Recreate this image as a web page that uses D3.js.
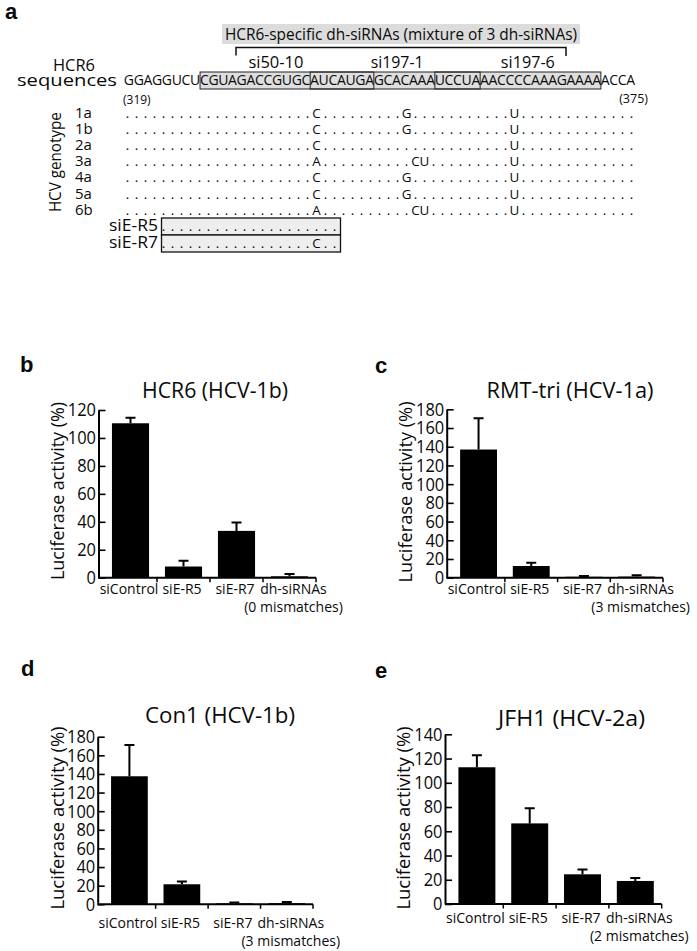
<!DOCTYPE html>
<html>
<head>
<meta charset="utf-8">
<script src="https://cdn.jsdelivr.net/npm/d3@7/dist/d3.min.js"></script>
<style>
  html, body { margin: 0; padding: 0; background: #fff; }
  svg { display: block; }
  text { font-family: 'Open Sans', 'Noto Sans', sans-serif; fill: #0a0a0a; }
</style>
</head>
<body>
<svg id="fig" width="697" height="951"></svg>
<script>
// ---------------- DATA ----------------
// Panel a: HCR6 sequence (positions 319-375), split by siRNA boundaries
const seqSegments = ["GGAGGUCU", "CGUAGACCGUGC", "AUCAUGA", "GCACAAA", "UCCUA", "AACCCCAAAGAAAA", "ACCA"];
const seqStartLabel = "(319)";
const seqEndLabel = "(375)";
const dhTitle = "HCR6-specific dh-siRNAs (mixture of 3 dh-siRNAs)";
const siNames = ["si50-10", "si197-1", "si197-6"];
const siStart = [8, 20, 34];   // index in sequence (0-based)
const siEnd = [26, 38, 52];
const genotypes = ["1a", "1b", "2a", "3a", "4a", "5a", "6b"];
// mismatches vs HCR6: [position, base]
const genotypeMismatches = [
  [[21, "C"], [31, "G"], [43, "U"]],
  [[21, "C"], [31, "G"], [43, "U"]],
  [[21, "C"], [43, "U"]],
  [[21, "A"], [32, "C"], [33, "U"], [43, "U"]],
  [[21, "C"], [31, "G"], [43, "U"]],
  [[21, "C"], [31, "G"], [43, "U"]],
  [[21, "A"], [32, "C"], [33, "U"], [43, "U"]]
];
const siENames = ["siE-R5", "siE-R7"];
const siERange = [4, 23];
const siEMismatches = [[], [[21, "C"]]];

// Panels b-e: luciferase activity (%)
const barCategories = ["siControl", "siE-R5", "siE-R7", "dh-siRNAs"];
const panelLetters = ["b", "c", "d", "e"];
const panelTitles = ["HCR6 (HCV-1b)", "RMT-tri (HCV-1a)", "Con1 (HCV-1b)", "JFH1 (HCV-2a)"];
const mismatchNotes = ["(0 mismatches)", "(3 mismatches)", "(3 mismatches)", "(2 mismatches)"];
const valuesB = [110.5, 8, 33.5, 1];
const errorsB = [4, 4.2, 6, 1.7];
const valuesC = [137, 12.5, 1, 1.2];
const errorsC = [33.5, 3.5, 0.8, 1.3];
const valuesD = [137.5, 21.5, 1, 1.2];
const errorsD = [33.5, 3, 0.8, 1.3];
const valuesE = [112.8, 66.5, 24.5, 19];
const errorsE = [10, 12.5, 4, 2.5];
const yMaxes = [120, 180, 180, 140];
const yTickStep = 20;
const yAxisLabel = "Luciferase activity (%)";
const genotypeAxisLabel = "HCV genotype";
const seqLabelLines = ["HCR6", "sequences"];

// ---------------- DRAWING ----------------
const svg = d3.select("#fig");
function fit(sel, w) { return sel.attr("textLength", w).attr("lengthAdjust", "spacingAndGlyphs"); }

// ---- Panel a ----
svg.append("text").attr("x", 5).attr("y", 19)
  .style("font-family", "'Liberation Sans', Arial, sans-serif").style("font-weight", "bold")
  .attr("font-size", 22).text("a");

// dh-siRNA title band
svg.append("rect").attr("x", 222).attr("y", 24).attr("width", 358).attr("height", 20).attr("fill", "#dcdcdc");
fit(svg.append("text").attr("x", 401).attr("y", 39.5).attr("text-anchor", "middle").attr("font-size", 15.5).text(dhTitle), 352);
// bracket
svg.append("path").attr("d", "M236,55.5V47.5H566V56").attr("fill", "none").attr("stroke", "#111").attr("stroke-width", 1.5);

// sequence label
fit(svg.append("text").attr("x", 74).attr("y", 71).attr("text-anchor", "middle").attr("font-size", 15.5).text(seqLabelLines[0]), 42);
fit(svg.append("text").attr("x", 67).attr("y", 86).attr("text-anchor", "middle").attr("font-size", 16.5).text(seqLabelLines[1]), 100);

// sequence characters, proportional widths scaled to fit span
const seq = seqSegments.join("");
const ctx = document.createElement("canvas").getContext("2d");
ctx.font = "14px 'Open Sans'";
const cw = [...seq].map(c => ctx.measureText(c).width);
const seqSpan = d3.scaleLinear().domain([0, d3.sum(cw)]).range([124, 635]);
const cum = d3.cumsum(cw);
const charLeft = cw.map((w, i) => seqSpan(cum[i] - w));
const charRight = cw.map((w, i) => seqSpan(cum[i]));

// gray background of dh-siRNA region
svg.append("rect").attr("x", charLeft[siStart[0]]).attr("y", 72)
  .attr("width", charRight[siEnd[2]] - charLeft[siStart[0]]).attr("height", 17).attr("fill", "#dedede");

svg.append("g").selectAll("text").data([...seq]).join("text")
  .attr("x", (c, i) => (charLeft[i] + charRight[i]) / 2).attr("y", 85)
  .attr("text-anchor", "middle").attr("font-size", 14).text(c => c);

// siRNA boxes
svg.append("g").selectAll("rect").data(siNames).join("rect")
  .attr("x", (d, i) => charLeft[siStart[i]]).attr("y", 72)
  .attr("width", (d, i) => charRight[siEnd[i]] - charLeft[siStart[i]]).attr("height", 17)
  .attr("fill", "none").attr("stroke", "#222").attr("stroke-width", 1);
const siLabelShift = [-11, 2, 10];
const siLabelW = [55, 53, 54];
siNames.forEach((n, i) => {
  const cx = (charLeft[siStart[i]] + charRight[siEnd[i]]) / 2 + siLabelShift[i];
  fit(svg.append("text").attr("x", cx).attr("y", 67.5).attr("text-anchor", "middle").attr("font-size", 16).text(n), siLabelW[i]);
});

svg.append("text").attr("x", 123).attr("y", 103.5).attr("font-size", 12).text(seqStartLabel);
svg.append("text").attr("x", 648).attr("y", 103).attr("text-anchor", "end").attr("font-size", 12.5).text(seqEndLabel);

// genotype alignment rows
const pos = d3.scaleLinear().domain([0, seq.length - 1]).range([127.5, 631.5]);
const rowY = d3.scaleLinear().domain([0, genotypes.length - 1]).range([117.5, 214.7]);
const rowFont = 13.4;

function rowChars(mm, from, to) {
  return d3.range(from, to + 1).map(i => {
    const m = mm.find(d => d[0] === i);
    return { i, c: m ? m[1] : "." };
  });
}
genotypes.forEach((gname, r) => {
  const y = rowY(r);
  svg.append("text").attr("x", 75).attr("y", y).attr("font-size", 15).text(gname);
  svg.append("g").selectAll("text").data(rowChars(genotypeMismatches[r], 0, seq.length - 1)).join("text")
    .attr("x", d => pos(d.i)).attr("y", y).attr("text-anchor", "middle")
    .attr("font-size", rowFont).text(d => d.c);
});
fit(svg.append("text").attr("transform", `translate(61,${rowY(3) - 4}) rotate(-90)`).attr("text-anchor", "middle")
  .attr("font-size", 16).text(genotypeAxisLabel), 100);

// siE rows
const siEBoxTop = [218, 235];
const siEBaseline = [231, 247.5];
siENames.forEach((n, r) => {
  svg.append("rect").attr("x", pos(siERange[0]) - 2).attr("y", siEBoxTop[r])
    .attr("width", pos(siERange[1]) - pos(siERange[0]) + 8).attr("height", 17)
    .attr("fill", "#eeeeee").attr("stroke", "#111").attr("stroke-width", 1.3);
});
siENames.forEach((n, r) => {
  fit(svg.append("text").attr("x", 158).attr("y", siEBaseline[r]).attr("text-anchor", "end").attr("font-size", 15.5).text(n), 49);
  svg.append("g").selectAll("text").data(rowChars(siEMismatches[r], siERange[0], siERange[1])).join("text")
    .attr("x", d => pos(d.i)).attr("y", siEBaseline[r]).attr("text-anchor", "middle")
    .attr("font-size", rowFont).text(d => d.c);
});

// ---- Bar panels ----
const panelValues = [valuesB, valuesC, valuesD, valuesE];
const panelErrors = [errorsB, errorsC, errorsD, errorsE];
const layout = [
  { ax: 98.5, ar: 316, y0: 577.7, yTop: 410, lx: 20, ly: 372, tcx: 215, tby: 398, tw: 146, ylx: 57, yly: 491, ylw: 178, xlb: 594, xmb: 612 },
  { ax: 446.7, ar: 663, y0: 577.7, yTop: 409.3, lx: 375, ly: 373, tcx: 570, tby: 398, tw: 167, ylx: 405, yly: 492, ylw: 181, xlb: 594, xmb: 612 },
  { ax: 97.7, ar: 313, y0: 904.3, yTop: 736.7, lx: 21, ly: 676, tcx: 220, tby: 723, tw: 150, ylx: 57, yly: 818, ylw: 183, xlb: 928, xmb: 946 },
  { ax: 445, ar: 661.7, y0: 904, yTop: 734.3, lx: 375, ly: 678, tcx: 571.5, tby: 726, tw: 147, ylx: 403, yly: 818, ylw: 183, xlb: 923, xmb: 941 }
];

layout.forEach((L, p) => {
  const g = svg.append("g");
  const vals = panelValues[p], errs = panelErrors[p];
  const y = d3.scaleLinear().domain([0, yMaxes[p]]).range([L.y0, L.yTop]);
  const x = d3.scaleBand().domain(barCategories).range([L.ax + 5.5, L.ar]);
  const bw = x.bandwidth();

  g.append("text").attr("x", L.lx).attr("y", L.ly)
    .style("font-family", "'Liberation Sans', Arial, sans-serif").style("font-weight", "bold")
    .attr("font-size", 22).text(panelLetters[p]);
  fit(g.append("text").attr("x", L.tcx).attr("y", L.tby).attr("text-anchor", "middle").attr("font-size", 21).text(panelTitles[p]), L.tw);
  fit(g.append("text").attr("transform", `translate(${L.ylx},${L.yly}) rotate(-90)`).attr("dy", "0.35em")
    .attr("text-anchor", "middle").attr("font-size", 19).text(yAxisLabel), L.ylw);

  // bars
  g.append("g").selectAll("rect").data(barCategories).join("rect")
    .attr("x", d => x(d) + bw * 0.15).attr("width", bw * 0.7)
    .attr("y", (d, i) => y(vals[i])).attr("height", (d, i) => y(0) - y(vals[i]))
    .attr("fill", "#000");
  // error bars
  const eg = g.append("g").attr("stroke", "#000").attr("stroke-width", 2).attr("fill", "none");
  barCategories.forEach((c, i) => {
    const cx = x(c) + bw / 2;
    eg.append("path").attr("d", `M${cx},${y(vals[i])}V${y(vals[i] + errs[i])}M${cx - 5},${y(vals[i] + errs[i])}H${cx + 5}`);
  });

  // y axis
  const yAxis = d3.axisLeft(y).tickValues(d3.range(0, yMaxes[p] + 1, yTickStep))
    .tickSizeInner(-7).tickSizeOuter(0).tickPadding(2.5);
  const ya = g.append("g").attr("transform", `translate(${L.ax},0)`).call(yAxis);
  ya.select(".domain").attr("stroke-width", 2).attr("stroke", "#000");
  ya.selectAll(".tick line").attr("stroke-width", 1.6).attr("stroke", "#000");
  ya.selectAll(".tick text").attr("font-size", 18.5).attr("fill", "#0a0a0a")
    .style("font-family", "'Open Sans', sans-serif")
    .each(function(d) { fit(d3.select(this), String(d).length * 9.4); });

  // x axis with ticks at band boundaries
  g.append("path").attr("d", `M${L.ax},${L.y0}H${L.ar}`).attr("stroke", "#000").attr("stroke-width", 2);
  g.append("g").selectAll("path").data(barCategories).join("path")
    .attr("d", d => `M${x(d) + bw},${L.y0}v4.5`).attr("stroke", "#000").attr("stroke-width", 1.5);

  // x labels
  g.append("g").selectAll("text").data(barCategories).join("text")
    .attr("x", (d, i) => x(d) + bw / 2 + (i === 3 ? 4 : -1.5)).attr("y", L.xlb)
    .attr("text-anchor", "middle").attr("font-size", 14).text(d => d);
  g.append("text").attr("x", x(barCategories[3]) + bw / 2 + 4).attr("y", L.xmb)
    .attr("text-anchor", "middle").attr("font-size", 14).text(mismatchNotes[p]);
});
</script>
</body>
</html>
